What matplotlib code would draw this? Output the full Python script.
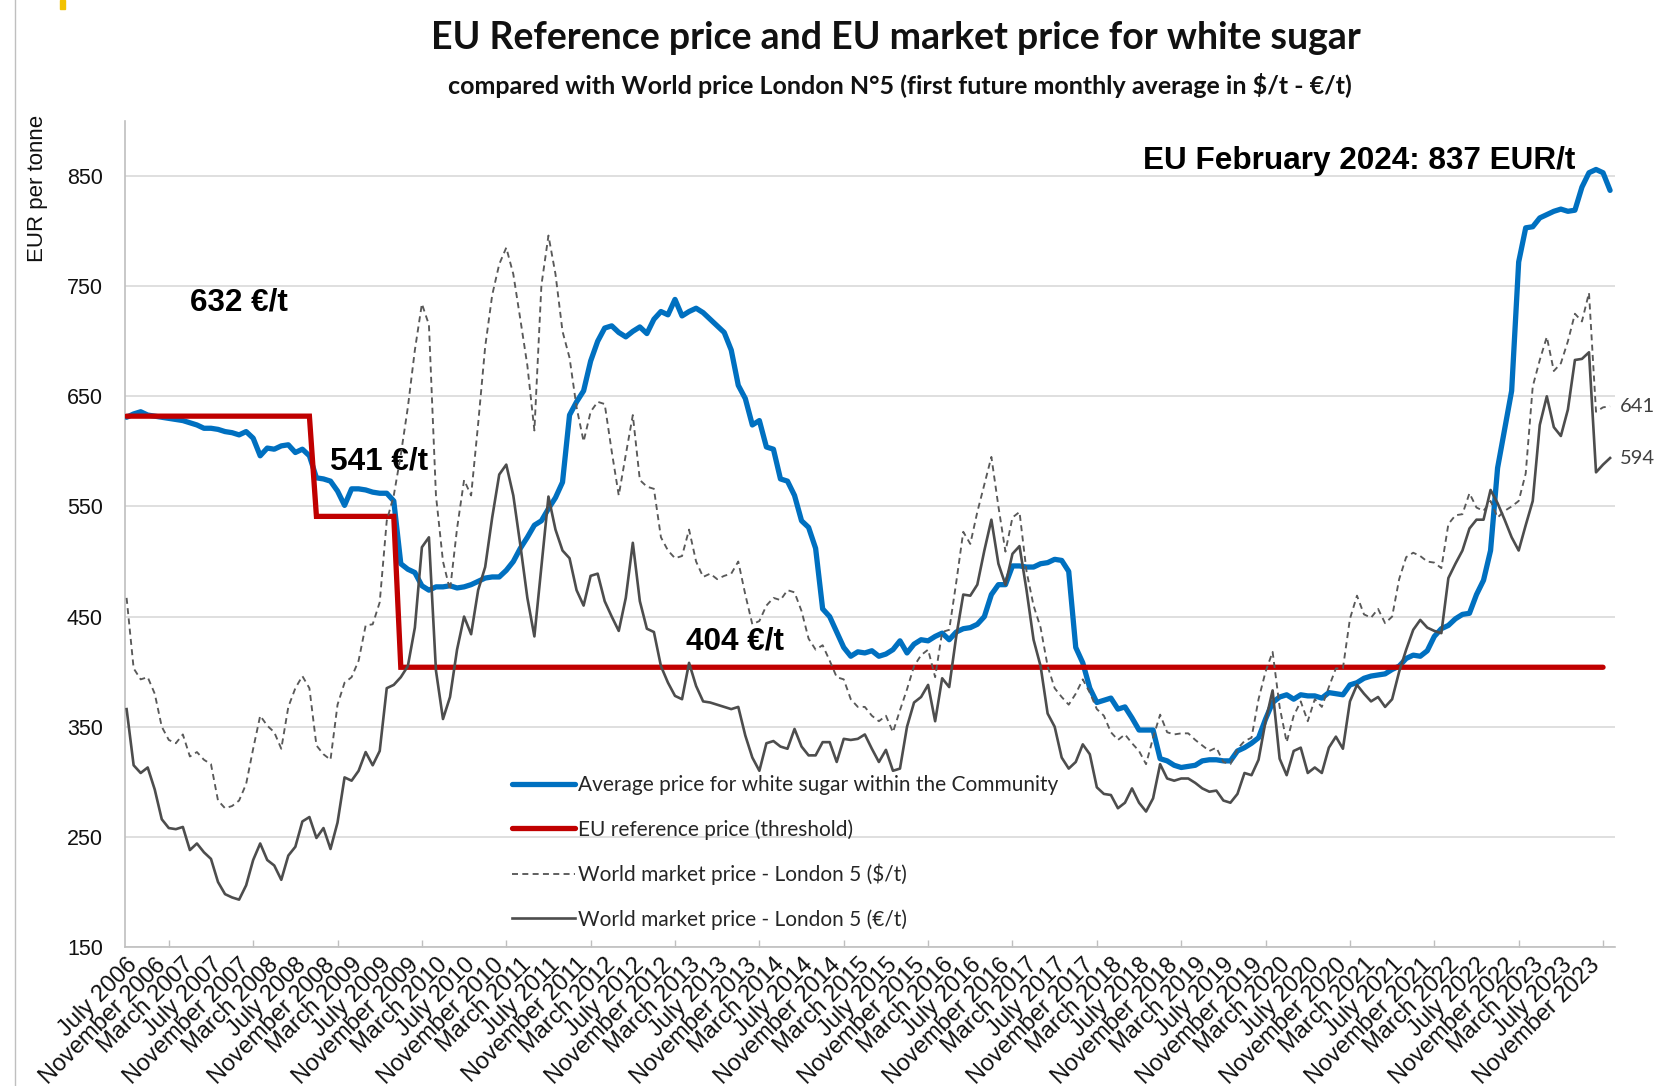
import matplotlib
matplotlib.use("Agg")
import matplotlib.pyplot as plt
from matplotlib.lines import Line2D
from matplotlib.patches import Rectangle
import numpy as np

# ---------------- data (monthly, July 2006 .. February 2024) ----------------
eu_avg = [
    631, 634, 636, 633, 632, 631, 630, 629, 628, 626,
    624, 621, 621, 620, 618, 617, 615, 618, 612, 596,
    603, 602, 605, 606, 599, 602, 596, 576, 575, 573,
    564, 551, 566, 566, 565, 563, 562, 562, 555, 498,
    493, 490, 478, 474, 477, 477, 478, 476, 477, 479,
    482, 485, 486, 486, 492, 500, 512, 522, 533, 537,
    548, 558, 572, 633, 645, 655, 682, 700, 712, 714,
    708, 704, 709, 713, 707, 720, 727, 724, 738, 723,
    727, 730, 726, 720, 714, 708, 692, 660, 648, 624,
    628, 604, 602, 575, 573, 560, 537, 531, 512, 457,
    450, 436, 422, 414, 418, 417, 419, 414, 416, 420,
    428, 417, 425, 429, 428, 432, 435, 429, 436, 439,
    440, 443, 450, 470, 479, 479, 496, 496, 495, 495,
    498, 499, 502, 501, 491, 422, 408, 385, 372, 374,
    376, 366, 368, 358, 347, 347, 347, 321, 319, 315,
    313, 314, 315, 319, 320, 320, 319, 319, 328, 331,
    335, 340, 357, 372, 377, 379, 375, 379, 378, 378,
    376, 381, 380, 379, 388, 390, 394, 396, 397, 398,
    402, 405, 412, 415, 414, 419, 432, 439, 442, 448,
    452, 453, 470, 483, 510, 585, 620, 655, 772, 803,
    804, 812, 815, 818, 820, 818, 819, 840, 853, 856,
    853, 837,
]

world_usd = [
    467, 403, 393, 395, 380, 350, 338, 335, 343, 323,
    327, 320, 316, 283, 276, 278, 283, 298, 330, 360,
    351, 345, 330, 368, 385, 396, 385, 333, 325, 320,
    370, 390, 395, 410, 442, 443, 463, 537, 560, 597,
    640, 692, 734, 715, 560, 500, 474, 530, 574, 560,
    625, 695, 742, 770, 785, 761, 720, 678, 619, 751,
    796, 761, 709, 685, 640, 609, 636, 645, 643, 600,
    560, 597, 633, 574, 568, 566, 522, 510, 503, 505,
    529, 500, 486, 489, 484, 487, 489, 500, 470, 443,
    446, 460, 467, 465, 474, 472, 455, 430, 420, 424,
    410, 395, 393, 375, 368, 368, 360, 355, 360, 345,
    365, 384, 405, 415, 420, 395, 436, 438, 481, 527,
    516, 545, 570, 595, 550, 509, 540, 545, 491, 460,
    440, 405, 385, 377, 370, 380, 393, 381, 366, 360,
    345, 338, 343, 335, 328, 316, 340, 361, 345, 343,
    344, 344, 338, 333, 328, 331, 318, 316, 330, 337,
    340, 375, 400, 418, 368, 336, 360, 373, 355, 375,
    368, 386, 403, 403, 448, 469, 452, 449, 457, 444,
    450, 484, 504, 508, 505, 500, 499, 494, 534, 542,
    543, 562, 549, 546, 555, 540, 546, 550, 555, 580,
    659, 683, 704, 673, 680, 700, 725, 718, 744, 636,
    640, 641,
]

world_eur = [
    366, 315, 308, 313, 293, 266, 258, 257, 259, 238,
    244, 236, 230, 209, 198, 195, 193, 206, 229, 244,
    229, 224, 211, 233, 241, 264, 268, 249, 258, 239,
    263, 304, 301, 310, 327, 315, 328, 385, 388, 395,
    405, 440, 513, 522, 401, 357, 377, 420, 450, 434,
    474, 495, 540, 579, 588, 560, 515, 467, 432, 495,
    559, 529, 510, 503, 474, 460, 487, 489, 464, 450,
    437, 467, 517, 464, 439, 436, 405, 390, 378, 375,
    408, 387, 373, 372, 370, 368, 366, 368, 342, 322,
    310, 335, 337, 332, 330, 348, 332, 324, 324, 336,
    336, 318, 339, 338, 339, 343, 330, 318, 329, 310,
    312, 350, 372, 377, 388, 355, 394, 386, 432, 470,
    469, 479, 510, 538, 498, 479, 507, 514, 474, 429,
    405, 362, 350, 322, 312, 318, 334, 325, 295, 289,
    288, 276, 281, 294, 281, 273, 285, 316, 303, 301,
    303, 303, 299, 294, 291, 292, 283, 281, 289, 308,
    306, 320, 355, 383, 321, 306, 328, 331, 308, 313,
    308, 331, 341, 330, 373, 388, 380, 373, 377, 368,
    375, 400, 420, 438, 447, 440, 437, 435, 485, 498,
    510, 530, 538, 538, 565, 553, 538, 522, 510, 533,
    555, 624, 650, 622, 614, 638, 683, 684, 690, 581,
    588, 594,
]

# EU reference price (threshold): level and number of months it applied
ref_levels = [632, 541, 404]
ref_months = [27, 12, 172]

# category tick labels, one every 4 months from July 2006
month_name = {2: "March", 6: "July", 10: "November"}
tick_labels = []
for k in range(53):
    m = 6 + 4 * k
    tick_labels.append(f"{month_name[m % 12]} {2006 + m // 12}")

series_labels = [
    "Average price for white sugar within the Community",
    "EU reference price (threshold)",
    "World market price - London 5 ($/t)",
    "World market price - London 5 (\u20ac/t)",
]

# ---------------- figure ----------------
W, H = 1655, 1086
fig = plt.figure(figsize=(W / 100, H / 100), dpi=100)
fig.patch.set_facecolor("white")

ax_left, ax_right, ax_top, ax_bot = 124.5, 1615, 121, 947
ax = fig.add_axes([ax_left / W, 1 - ax_bot / H, (ax_right - ax_left) / W, (ax_bot - ax_top) / H])

x = np.arange(len(eu_avg))
ref = np.repeat(ref_levels, ref_months)
xr = np.arange(len(ref))

BLUE = "#0070C0"
RED = "#C00000"
GREY = "#4d4d4d"
DGREY = "#595959"
DASH = (0, (3.2, 2.3))

ax.plot(x, eu_avg, color=BLUE, lw=3.8, solid_joinstyle="round", solid_capstyle="round", zorder=3)
ax.plot(xr, ref, color=RED, lw=3.8, solid_joinstyle="miter", solid_capstyle="round", zorder=4)
ax.plot(x, world_usd, color=DGREY, lw=1.35, linestyle=DASH, zorder=5)
ax.plot(x, world_eur, color=GREY, lw=1.9, solid_joinstyle="round", zorder=6)

ax.set_xlim(-0.3, 211.7)
ax.set_ylim(150, 900)

ax.set_yticks(range(150, 851, 100))
ax.yaxis.grid(True, color="#d9d9d9", lw=1.2)
ax.set_axisbelow(True)
for s in ["top", "right"]:
    ax.spines[s].set_visible(False)
for s in ["left", "bottom"]:
    ax.spines[s].set_color("#bfbfbf")
    ax.spines[s].set_linewidth(1.2)

ax.tick_params(axis="y", length=0, pad=15.5, labelsize=15.5, labelcolor="#111111")
for t in ax.get_yticklabels():
    t.set_family(["Liberation Sans", "DejaVu Sans"])

ax.set_xticks(range(0, 212, 4))
ax.set_xticklabels(tick_labels, rotation=45, ha="right", va="top", rotation_mode="anchor",
                   family=["Liberation Sans Narrow", "Liberation Sans", "DejaVu Sans"],
                   fontsize=17, color="#111111")
ax.tick_params(axis="x", which="major", length=0, pad=5)
ax.set_xticks(range(0, 212, 6), minor=True)
ax.tick_params(axis="x", which="minor", length=5, width=1, direction="in", color="#bfbfbf")

fig.text(38 / W, 1 - 188 / H, "EUR per tonne", rotation=90, ha="center", va="center",
         fontsize=16, family=["Liberation Sans", "DejaVu Sans"], color="#111111")

# titles
fig.text(896 / W, 1 - 38 / H, "EU Reference price and EU market price for white sugar",
         ha="center", va="center", fontsize=27, fontweight="bold",
         family=["Lato", "DejaVu Sans"], color="#111111")
fig.text(900 / W, 1 - 86 / H,
         "compared with World price London N\u00b05 (first future monthly average in $/t - \u20ac/t)",
         ha="center", va="center", fontsize=18, fontweight="bold",
         family=["Lato", "DejaVu Sans"], color="#111111")

# annotations
afont = dict(fontsize=22.7, fontweight="bold", family=["Liberation Sans", "DejaVu Sans"], color="black")
ax.text(9.0, 735, f"{ref_levels[0]} \u20ac/t", ha="left", va="center", **afont)
ax.text(28.9, 591, f"{ref_levels[1]} \u20ac/t", ha="left", va="center", **afont)
ax.text(79.6, 427, f"{ref_levels[2]} \u20ac/t", ha="left", va="center", **afont)
ax.text(206, 864, f"EU February 2024: {eu_avg[-1]} EUR/t", ha="right", va="center", **afont)

# end-of-series data labels
for val in (world_usd[-1], world_eur[-1]):
    ax.annotate(f"{val}", xy=(x[-1], val), xytext=(10, 0), textcoords="offset pixels",
                ha="left", va="center", fontsize=14.5, family=["Lato", "DejaVu Sans"],
                color="#404040", annotation_clip=False)

# legend
handles = [
    Line2D([], [], color=BLUE, lw=3.8, solid_capstyle="round"),
    Line2D([], [], color=RED, lw=3.8, solid_capstyle="round"),
    Line2D([], [], color=DGREY, lw=1.35, linestyle=DASH),
    Line2D([], [], color=GREY, lw=1.9),
]
leg = ax.legend(handles, series_labels, loc="upper left", bbox_to_anchor=(0.26, 0.208),
                frameon=False, handlelength=3.0, handletextpad=0.15, labelspacing=1.15,
                borderpad=0, borderaxespad=0,
                prop={"family": ["Lato", "DejaVu Sans"], "size": 15})
for t in leg.get_texts():
    t.set_color("#262626")

# chart border and slide remnants
fig.add_artist(Line2D([15 / W, 15 / W], [0, 1], color="#bfbfbf", lw=1, transform=fig.transFigure))
fig.add_artist(Rectangle((60 / W, 1 - 9 / H), 5 / W, 9 / H, color="#f2c200", transform=fig.transFigure))

fig.savefig("out.png", dpi=100, facecolor="white")
